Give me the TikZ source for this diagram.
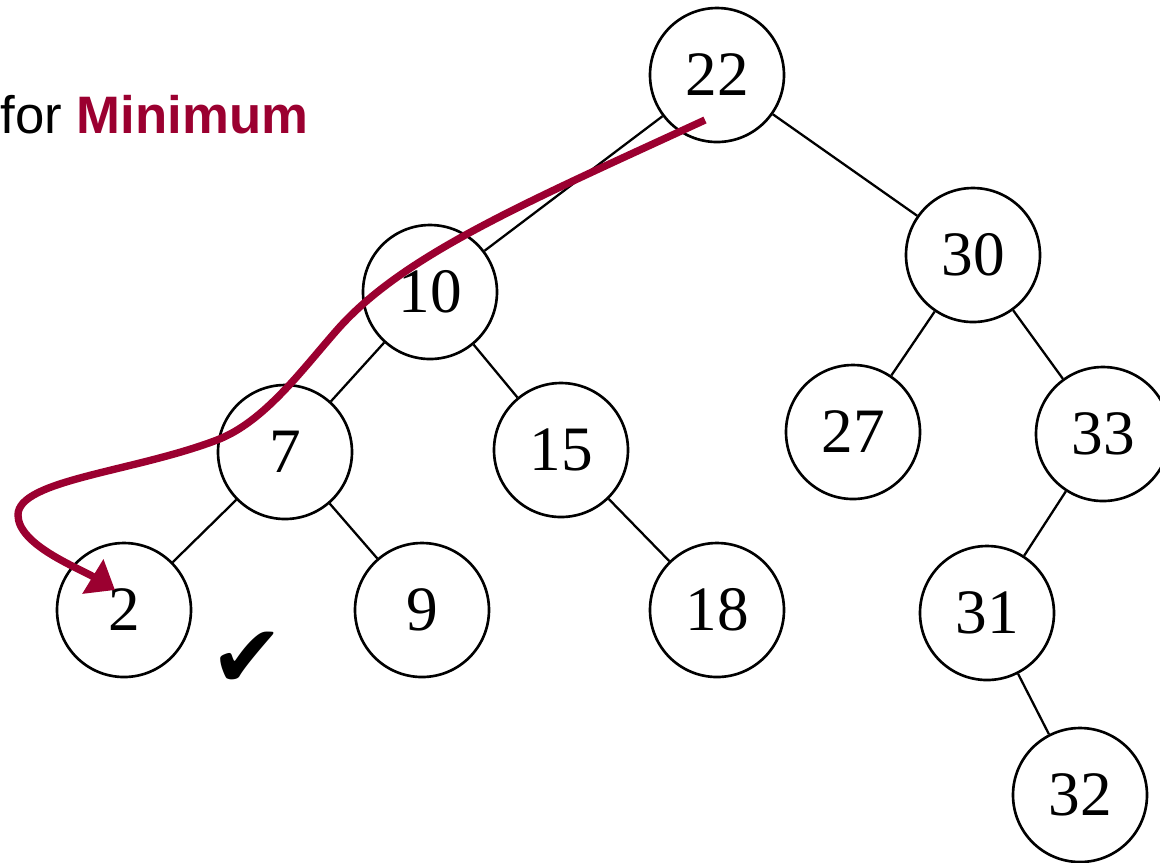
\documentclass[tikz,border=0pt]{standalone}
\usepackage{fontspec}
\setmainfont{Liberation Serif}
\newfontfamily\labelfont{Liberation Sans}
\newfontfamily\symbolfont{DejaVu Sans}
\usetikzlibrary{arrows.meta}
\definecolor{SearchRed}{RGB}{155,0,48}

\begin{document}
\begin{tikzpicture}[
    treenode/.style={circle, draw, line width=0.75pt, minimum size=1.34cm, inner sep=0pt, font=\fontsize{18}{20}\selectfont},
    treeedge/.style={line width=0.65pt},
    searchpath/.style={-{Triangle[length=0.26cm, width=0.39cm]}, line width=2.1pt, SearchRed}
  ]
  \useasboundingbox (0,0) rectangle (11.6,-8.62);
  % title
  \node[anchor=base west, inner sep=0pt, font=\labelfont\fontsize{15}{17}\selectfont] (title) at (0,-1.33) {for \textcolor{SearchRed}{\bfseries Minimum}};
  % tree
  \node[treenode] (n22) at (7.17,-0.75) {22};
  \node[treenode] (n10) at (4.30,-2.92) {10};
  \node[treenode] (n30) at (9.73,-2.55) {30};
  \node[treenode] (n7)  at (2.85,-4.52) {7};
  \node[treenode] (n15) at (5.61,-4.50) {15};
  \node[treenode] (n27) at (8.53,-4.32) {27};
  \node[treenode] (n33) at (11.03,-4.34) {33};
  \node[treenode] (n2)  at (1.24,-6.10) {2};
  \node[treenode] (n9)  at (4.22,-6.10) {9};
  \node[treenode] (n18) at (7.17,-6.10) {18};
  \node[treenode] (n31) at (9.87,-6.13) {31};
  \node[treenode] (n32) at (10.80,-7.95) {32};
  \draw[treeedge] (n22) -- (n10);
  \draw[treeedge] (n22) -- (n30);
  \draw[treeedge] (n10) -- (n7);
  \draw[treeedge] (n10) -- (n15);
  \draw[treeedge] (n30) -- (n27);
  \draw[treeedge] (n30) -- (n33);
  \draw[treeedge] (n7) -- (n2);
  \draw[treeedge] (n7) -- (n9);
  \draw[treeedge] (n15) -- (n18);
  \draw[treeedge] (n33) -- (n31);
  \draw[treeedge] (n31) -- (n32);
  % search path down to the minimum
  \node[font=\symbolfont\fontsize{25}{27}\selectfont, inner sep=0pt] (found) at (2.47,-6.60) {✔};
  \coordinate (start) at (7.05,-1.20);
  \coordinate (goal) at (1.15,-5.90);
  \draw[searchpath] (start) .. controls (5.25,-2.03) and (4.03,-2.55) .. (3.37,-3.30)
    .. controls (3.01,-3.71) and (2.64,-4.22) .. (2.17,-4.40)
    .. controls (1.33,-4.72) and (0.18,-4.80) .. (0.18,-5.15)
    .. controls (0.18,-5.45) and (0.79,-5.68) .. (goal);
\end{tikzpicture}
\end{document}
